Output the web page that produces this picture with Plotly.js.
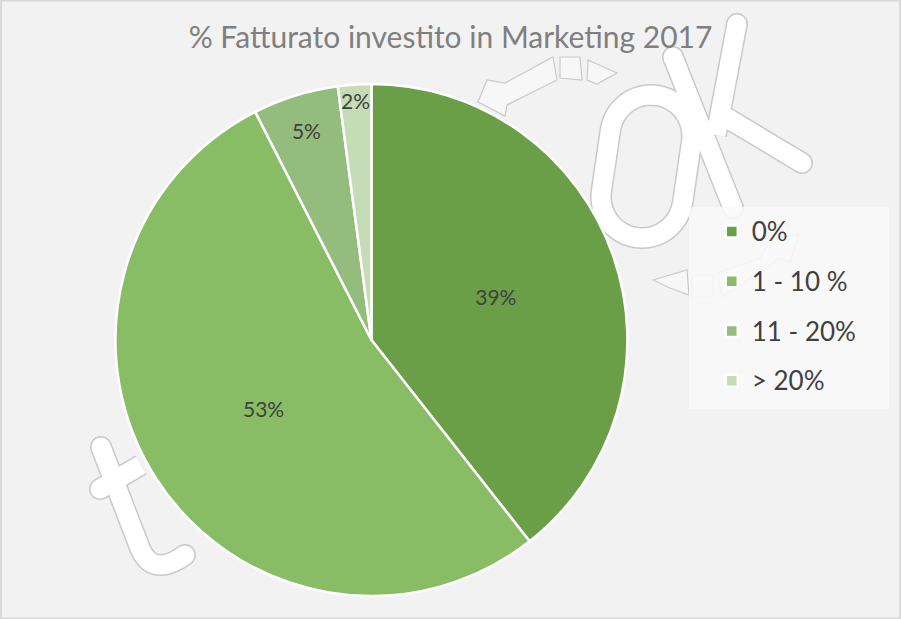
<!DOCTYPE html>
<html>
<head>
<meta charset="utf-8">
<script src="https://cdn.plot.ly/plotly-3.0.1.min.js"></script>
<style>html,body{margin:0;padding:0;background:#f2f2f2;}#chart{width:901px;height:619px;}</style>
</head>
<body>
<div id="chart"></div>
<script>
// ---- data ----
const categories = ['0%', '1 - 10 %', '11 - 20%', '> 20%'];
const shares = [39.4, 53.1, 5.4, 2.1];
const sliceColors = ['#6b9f47', '#88bc65', '#94bd7d', '#c5dcb7'];
const chartTitle = '% Fatturato investito in Marketing 2017';

// ---- helpers for the decorative watermark (pixel -> paper) ----
const W = 901, H = 619;
const P = (x, y) => (x / W).toFixed(5) + ',' + (1 - y / H).toFixed(5);
const poly = (pts, close) => 'M' + pts.map(p => P(p[0], p[1])).join('L') + (close ? 'Z' : '');
function quad(a, c, b, n) {
  const out = [];
  for (let i = 0; i <= n; i++) {
    const t = i / n;
    out.push([(1-t)*(1-t)*a[0] + 2*(1-t)*t*c[0] + t*t*b[0], (1-t)*(1-t)*a[1] + 2*(1-t)*t*c[1] + t*t*b[1]]);
  }
  return out;
}
function stadium(T, B, r) {
  const dx = B[0] - T[0], dy = B[1] - T[1], L = Math.hypot(dx, dy);
  const d = [dx / L, dy / L], n = [d[1], -d[0]];
  const pts = [];
  for (let i = 0; i <= 24; i++) {
    const a = Math.PI * i / 24;
    pts.push([T[0] + r * (Math.cos(a) * n[0] - Math.sin(a) * d[0]), T[1] + r * (Math.cos(a) * n[1] - Math.sin(a) * d[1])]);
  }
  for (let i = 0; i <= 24; i++) {
    const a = Math.PI * i / 24;
    pts.push([B[0] - r * (Math.cos(a) * n[0] - Math.sin(a) * d[0]), B[1] - r * (Math.cos(a) * n[1] - Math.sin(a) * d[1])]);
  }
  return pts;
}
const SW = 19;
const strokes = [
  {pts: stadium([651, 136], [642, 197], 41), closed: true},
  {pts: [[673, 57], [733, 208]], closed: false},
  {pts: [[716, 135], [737, 24]], closed: false},
  {pts: [[722, 115], [802, 163]], closed: false},
  {pts: [[101, 447], [138, 543]].concat(quad([138, 543], [150, 580], [185, 555], 12).slice(1)), closed: false},
  {pts: [[100, 489], [141, 465]], closed: false}
];
const capPoints = [[673, 57], [733, 208], [737, 24], [802, 163], [101, 447], [185, 555], [100, 489]];
const arrowPieces = [
  [[487, 80], [478, 102], [505, 116], [507, 105], [557, 80], [553, 57], [505, 83]],
  [[560, 57], [580, 57], [582, 80], [560, 78]],
  [[588, 60], [617, 73], [597, 84], [587, 80]],
  [[653, 280], [687, 270], [689, 295], [670, 288]],
  [[692, 275], [713, 275], [713, 297], [692, 297]],
  [[718, 273], [760, 258], [770, 240], [799, 234], [790, 262], [780, 258], [722, 297]]
];

const shapes = [];
const OUT = '#c9c9c9';
strokes.forEach(s => shapes.push({type: 'path', xref: 'paper', yref: 'paper', layer: 'below', path: poly(s.pts, s.closed), line: {color: OUT, width: SW + 3}, fillcolor: 'rgba(0,0,0,0)'}));
capPoints.forEach(c => {
  const R = SW / 2 + 0.75;
  shapes.push({type: 'circle', xref: 'paper', yref: 'paper', layer: 'below', x0: (c[0] - R) / W, x1: (c[0] + R) / W, y0: 1 - (c[1] + R) / H, y1: 1 - (c[1] - R) / H, fillcolor: '#ffffff', line: {color: OUT, width: 1.5}});
});
strokes.forEach(s => shapes.push({type: 'path', xref: 'paper', yref: 'paper', layer: 'below', path: poly(s.pts, s.closed), line: {color: '#ffffff', width: SW}, fillcolor: 'rgba(0,0,0,0)'}));
arrowPieces.forEach(p => shapes.push({type: 'path', xref: 'paper', yref: 'paper', layer: 'below', path: poly(p, true), fillcolor: '#f7f7f7', line: {color: OUT, width: 1.2}}));
// legend box and outer frame
shapes.push({type: 'rect', xref: 'paper', yref: 'paper', layer: 'below', x0: 689 / W, x1: 889 / W, y0: 1 - 409 / H, y1: 1 - 207 / H, fillcolor: 'rgba(249,249,249,0.85)', line: {width: 0}});
shapes.push({type: 'rect', xref: 'paper', yref: 'paper', x0: 0.001, x1: 0.999, y0: 0.001, y1: 0.999, fillcolor: 'rgba(0,0,0,0)', line: {color: '#d9d9d9', width: 2}});

const NB = '\u00a0';
const legendLabels = categories.map(c => NB + '<br><span style="font-size:26px;baseline-shift:-5px">' + c + '</span><br>' + NB);

const trace = {
  type: 'pie',
  labels: legendLabels,
  values: shares,
  sort: false,
  direction: 'clockwise',
  rotation: 0,
  marker: {colors: sliceColors, line: {color: '#ffffff', width: 2.5}},
  texttemplate: '%{percent:.0%}',
  textposition: 'inside',
  insidetextorientation: 'horizontal',
  textfont: {family: 'Lato, sans-serif', size: 21, color: '#404040'},
  hoverinfo: 'none',
  domain: {x: [0.128, 0.6965], y: [0.0372, 0.8643]}
};

const layout = {
  width: W, height: H, autosize: false,
  margin: {l: 0, r: 0, t: 0, b: 0},
  paper_bgcolor: '#f2f2f2',
  title: {text: chartTitle, font: {family: 'Lato, sans-serif', size: 30, color: '#7f7f7f'}, x: 0.5, xanchor: 'center', y: 0.94, yanchor: 'middle'},
  showlegend: true,
  legend: {
    x: 0.79, xanchor: 'left', y: 0.6745, yanchor: 'top',
    bgcolor: 'rgba(0,0,0,0)',
    font: {family: 'Lato, sans-serif', size: 12, color: '#404040'}
  },
  uniformtext: {minsize: 21, mode: 'show'},
  shapes: shapes
};

Plotly.newPlot('chart', [trace], layout, {displayModeBar: false, staticPlot: true});
</script>
</body>
</html>
